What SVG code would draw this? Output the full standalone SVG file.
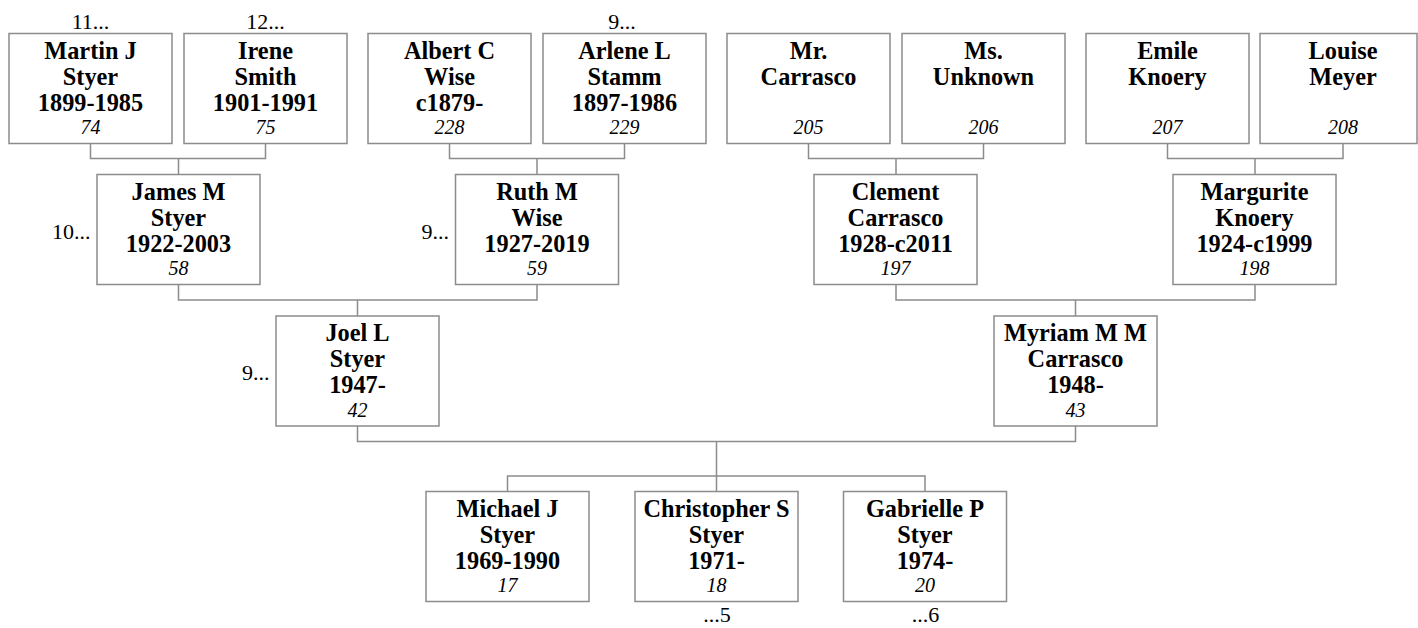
<svg xmlns="http://www.w3.org/2000/svg" width="1418" height="628" viewBox="0 0 1418 628">
<style>
.box{fill:#fff;stroke:#8c8c8c;stroke-width:1.5}
.ln{fill:none;stroke:#8c8c8c;stroke-width:1.5}
.n{font-family:"Liberation Serif","Times New Roman",serif;font-weight:bold;font-size:24.3px;text-anchor:middle;fill:#000}
.id{font-family:"Liberation Serif","Times New Roman",serif;font-style:italic;font-size:20px;text-anchor:middle;fill:#000}
.more{font-family:"Liberation Serif","Times New Roman",serif;font-size:22px;fill:#000}
.mid{text-anchor:middle}
.end{text-anchor:end}
</style>
<rect width="1418" height="628" fill="#fff"/>
<g id="connectors">
<path class="ln" d="M90.5 143.5V158.5H265.5V143.5M178.5 158.5V174.5"/>
<path class="ln" d="M449.5 143.5V158.5H624.5V143.5M537 158.5V174.5"/>
<path class="ln" d="M808.5 143.5V158.5H983.5V143.5M896 158.5V174.5"/>
<path class="ln" d="M1167.5 143.5V158.5H1343V143.5M1255 158.5V174.5"/>
<path class="ln" d="M178.5 284.5V300H537V284.5M357.5 300V316"/>
<path class="ln" d="M896 284.5V300H1255V284.5M1075.5 300V316"/>
<path class="ln" d="M357.5 426V441.5H1075.5V426M716.5 441.5V491.5"/>
<path class="ln" d="M507.5 491.5V476H925V491.5"/>
</g>
<g id="n74"><rect class="box" x="9" y="33.5" width="163" height="110"/><text class="n" x="90.5" y="58.5">Martin J</text><text class="n" x="90.5" y="84.5">Styer</text><text class="n" x="90.5" y="110.5">1899-1985</text><text class="id" x="90.5" y="134">74</text><text class="more mid" x="90.5" y="29">11...</text></g>
<g id="n75"><rect class="box" x="184" y="33.5" width="163" height="110"/><text class="n" x="265.5" y="58.5">Irene</text><text class="n" x="265.5" y="84.5">Smith</text><text class="n" x="265.5" y="110.5">1901-1991</text><text class="id" x="265.5" y="134">75</text><text class="more mid" x="265.5" y="29">12...</text></g>
<g id="n228"><rect class="box" x="368" y="33.5" width="163" height="110"/><text class="n" x="449.5" y="58.5">Albert C</text><text class="n" x="449.5" y="84.5">Wise</text><text class="n" x="449.5" y="110.5">c1879-</text><text class="id" x="449.5" y="134">228</text></g>
<g id="n229"><rect class="box" x="543" y="33.5" width="163" height="110"/><text class="n" x="624.5" y="58.5">Arlene L</text><text class="n" x="624.5" y="84.5">Stamm</text><text class="n" x="624.5" y="110.5">1897-1986</text><text class="id" x="624.5" y="134">229</text><text class="more mid" x="622" y="29">9...</text></g>
<g id="n205"><rect class="box" x="727" y="33.5" width="163" height="110"/><text class="n" x="808.5" y="58.5">Mr.</text><text class="n" x="808.5" y="84.5">Carrasco</text><text class="id" x="808.5" y="134">205</text></g>
<g id="n206"><rect class="box" x="902" y="33.5" width="163" height="110"/><text class="n" x="983.5" y="58.5">Ms.</text><text class="n" x="983.5" y="84.5">Unknown</text><text class="id" x="983.5" y="134">206</text></g>
<g id="n207"><rect class="box" x="1086" y="33.5" width="163" height="110"/><text class="n" x="1167.5" y="58.5">Emile</text><text class="n" x="1167.5" y="84.5">Knoery</text><text class="id" x="1167.5" y="134">207</text></g>
<g id="n208"><rect class="box" x="1260" y="33.5" width="157" height="110"/><text class="n" x="1343" y="58.5">Louise</text><text class="n" x="1343" y="84.5">Meyer</text><text class="id" x="1343" y="134">208</text></g>
<g id="n58"><rect class="box" x="97" y="174.5" width="163" height="110"/><text class="n" x="178.5" y="199.5">James M</text><text class="n" x="178.5" y="225.5">Styer</text><text class="n" x="178.5" y="251.5">1922-2003</text><text class="id" x="178.5" y="275">58</text><text class="more end" x="90.5" y="239">10...</text></g>
<g id="n59"><rect class="box" x="455.5" y="174.5" width="163" height="110"/><text class="n" x="537" y="199.5">Ruth M</text><text class="n" x="537" y="225.5">Wise</text><text class="n" x="537" y="251.5">1927-2019</text><text class="id" x="537" y="275">59</text><text class="more end" x="449" y="239">9...</text></g>
<g id="n197"><rect class="box" x="814" y="174.5" width="163" height="110"/><text class="n" x="895.5" y="199.5">Clement</text><text class="n" x="895.5" y="225.5">Carrasco</text><text class="n" x="895.5" y="251.5">1928-c2011</text><text class="id" x="895.5" y="275">197</text></g>
<g id="n198"><rect class="box" x="1173" y="174.5" width="163" height="110"/><text class="n" x="1254.5" y="199.5">Margurite</text><text class="n" x="1254.5" y="225.5">Knoery</text><text class="n" x="1254.5" y="251.5">1924-c1999</text><text class="id" x="1254.5" y="275">198</text></g>
<g id="n42"><rect class="box" x="276" y="316" width="163" height="110"/><text class="n" x="357.5" y="341">Joel L</text><text class="n" x="357.5" y="367">Styer</text><text class="n" x="357.5" y="393">1947-</text><text class="id" x="357.5" y="416.5">42</text><text class="more end" x="269.5" y="380">9...</text></g>
<g id="n43"><rect class="box" x="994" y="316" width="163" height="110"/><text class="n" x="1075.5" y="341">Myriam M M</text><text class="n" x="1075.5" y="367">Carrasco</text><text class="n" x="1075.5" y="393">1948-</text><text class="id" x="1075.5" y="416.5">43</text></g>
<g id="n17"><rect class="box" x="426" y="491.5" width="163" height="110"/><text class="n" x="507.5" y="516.5">Michael J</text><text class="n" x="507.5" y="542.5">Styer</text><text class="n" x="507.5" y="568.5">1969-1990</text><text class="id" x="507.5" y="592">17</text></g>
<g id="n18"><rect class="box" x="635" y="491.5" width="163" height="110"/><text class="n" x="716.5" y="516.5">Christopher S</text><text class="n" x="716.5" y="542.5">Styer</text><text class="n" x="716.5" y="568.5">1971-</text><text class="id" x="716.5" y="592">18</text><text class="more mid" x="717" y="621.5">...5</text></g>
<g id="n20"><rect class="box" x="843.5" y="491.5" width="163" height="110"/><text class="n" x="925" y="516.5">Gabrielle P</text><text class="n" x="925" y="542.5">Styer</text><text class="n" x="925" y="568.5">1974-</text><text class="id" x="925" y="592">20</text><text class="more mid" x="925.5" y="621.5">...6</text></g>
</svg>
